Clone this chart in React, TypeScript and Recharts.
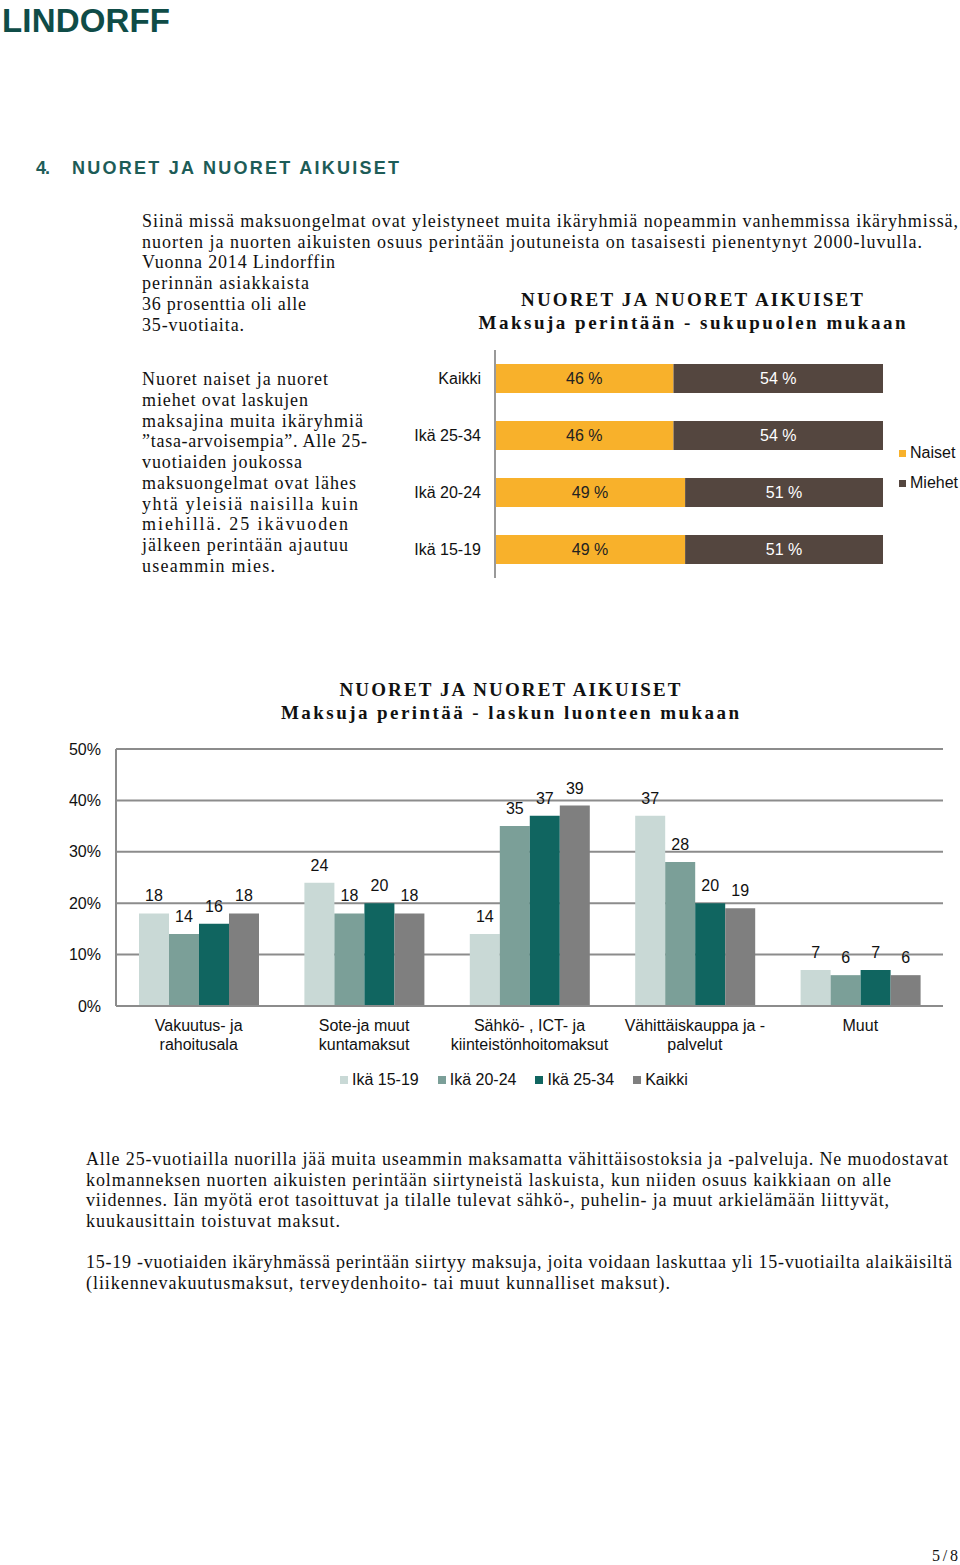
import React from "react";
import { Bar, BarChart, CartesianGrid, LabelList, Legend, XAxis, YAxis } from "recharts";

// Maksuja perintään - sukupuolen mukaan
const genderGroups = ["Kaikki", "Ikä 25-34", "Ikä 20-24", "Ikä 15-19"];
const naiset = [46, 46, 49, 49];
const miehet = [54, 54, 51, 51];
const genderSeries = ["Naiset", "Miehet"];

// Maksuja perintää - laskun luonteen mukaan
const billTypes = [
  "Vakuutus- ja\nrahoitusala",
  "Sote-ja muut\nkuntamaksut",
  "Sähkö- , ICT- ja\nkiinteistönhoitomaksut",
  "Vähittäiskauppa ja -\npalvelut",
  "Muut",
];
const age1519 = [18, 24, 14, 37, 7];
const age2024 = [14, 18, 35, 28, 6];
const age2534 = [16, 20, 37, 20, 7];
const kaikki = [18, 18, 39, 19, 6];
const pctTicks = [0, 10, 20, 30, 40, 50];

const SANS = "'Liberation Sans', Arial, sans-serif";
const SERIF = "'Liberation Serif', 'Times New Roman', serif";
const GRID = "#8c8c8c";
const FS = 16;

const genderData = genderGroups.map((group, i) => ({ group, naiset: naiset[i], miehet: miehet[i] }));
const billData = billTypes.map((type, i) => ({
  type,
  a1519: age1519[i],
  a2024: age2024[i],
  a2534: age2534[i],
  kaikki: kaikki[i],
}));

type LineProps = {
  x: number;
  y: number;
  w: number;
  size?: number;
  bold?: boolean;
  mid?: boolean;
  font?: string;
  fill?: string;
  children: string;
};

function Line({ x, y, w, size = 18, bold, mid, font = SERIF, fill = "#111", children }: LineProps) {
  return (
    <text
      x={x}
      y={y}
      textLength={w}
      lengthAdjust="spacing"
      textAnchor={mid ? "middle" : "start"}
      fontFamily={font}
      fontSize={size}
      fontWeight={bold ? 700 : 400}
      fill={fill}
    >
      {children}
    </text>
  );
}

function BillTick({ x, y, payload }: any) {
  const lines = String(payload.value).split("\n");
  return (
    <text x={x} y={y} textAnchor="middle" fontFamily={SANS} fontSize={FS} fill="#111">
      {lines.map((l, i) => (
        <tspan key={i} x={x} dy={i === 0 ? 17 : 19}>
          {l}
        </tspan>
      ))}
    </text>
  );
}

function SideLegend({ payload }: any) {
  const items = [...(payload || [])].sort(
    (a: any, b: any) => genderSeries.indexOf(a.value) - genderSeries.indexOf(b.value)
  );
  return (
    <div style={{ fontFamily: SANS, fontSize: FS, color: "#111" }}>
      {items.map((p: any) => (
        <div key={p.value} style={{ display: "flex", alignItems: "center", height: 30 }}>
          <span style={{ width: 7, height: 7, background: p.color, marginRight: 4 }} />
          {p.value}
        </div>
      ))}
    </div>
  );
}

function RowLegend({ payload }: any) {
  return (
    <div style={{ display: "flex", fontFamily: SANS, fontSize: FS, color: "#111" }}>
      {(payload || []).map((p: any) => (
        <div key={p.value} style={{ display: "flex", alignItems: "center", marginRight: 19 }}>
          <span style={{ width: 8, height: 8, background: p.color, marginRight: 4 }} />
          {p.value}
        </div>
      ))}
    </div>
  );
}

export default function App() {
  return (
    <div style={{ position: "absolute", left: 0, top: 0, width: 960, height: 1565, background: "#fff", overflow: "hidden" }}>
      <svg width={960} height={1565} style={{ position: "absolute", left: 0, top: 0 }}>
        <Line x={2} y={32} w={168} size={33} bold font={SANS} fill="#0f4c47">LINDORFF</Line>
        <Line x={36} y={174} w={14} size={18} bold font={SANS} fill="#1d5c57">4.</Line>
        <Line x={72} y={174} w={327} size={18} bold font={SANS} fill="#1d5c57">NUORET JA NUORET AIKUISET</Line>

        <Line x={142} y={227} w={816}>Siinä missä maksuongelmat ovat yleistyneet muita ikäryhmiä nopeammin vanhemmissa ikäryhmissä,</Line>
        <Line x={142} y={248} w={780}>nuorten ja nuorten aikuisten osuus perintään joutuneista on tasaisesti pienentynyt 2000-luvulla.</Line>
        <Line x={142} y={268} w={193}>Vuonna 2014 Lindorffin</Line>
        <Line x={142} y={289} w={167}>perinnän asiakkaista</Line>
        <Line x={142} y={310} w={164}>36 prosenttia oli alle</Line>
        <Line x={142} y={331} w={102}>35-vuotiaita.</Line>

        <Line x={692} y={306} w={342} size={19} bold mid>NUORET JA NUORET AIKUISET</Line>
        <Line x={692} y={329} w={427} size={19} bold mid>Maksuja perintään - sukupuolen mukaan</Line>

        <Line x={142} y={385} w={186}>Nuoret naiset ja nuoret</Line>
        <Line x={142} y={406} w={166}>miehet ovat laskujen</Line>
        <Line x={142} y={427} w={221}>maksajina muita ikäryhmiä</Line>
        <Line x={142} y={447} w={225}>”tasa-arvoisempia”. Alle 25-</Line>
        <Line x={142} y={468} w={160}>vuotiaiden joukossa</Line>
        <Line x={142} y={489} w={214}>maksuongelmat ovat lähes</Line>
        <Line x={142} y={510} w={216}>yhtä yleisiä naisilla kuin</Line>
        <Line x={142} y={530} w={206}>miehillä. 25 ikävuoden</Line>
        <Line x={142} y={551} w={206}>jälkeen perintään ajautuu</Line>
        <Line x={142} y={572} w={133}>useammin mies.</Line>

        <Line x={510} y={696} w={341} size={19} bold mid>NUORET JA NUORET AIKUISET</Line>
        <Line x={510} y={719} w={458} size={19} bold mid>Maksuja perintää - laskun luonteen mukaan</Line>

        <Line x={86} y={1165} w={862}>Alle 25-vuotiailla nuorilla jää muita useammin maksamatta vähittäisostoksia ja -palveluja. Ne muodostavat</Line>
        <Line x={86} y={1186} w={805}>kolmanneksen nuorten aikuisten perintään siirtyneistä laskuista, kun niiden osuus kaikkiaan on alle</Line>
        <Line x={86} y={1206} w={803}>viidennes. Iän myötä erot tasoittuvat ja tilalle tulevat sähkö-, puhelin- ja muut arkielämään liittyvät,</Line>
        <Line x={86} y={1227} w={254}>kuukausittain toistuvat maksut.</Line>
        <Line x={86} y={1268} w={866}>15-19 -vuotiaiden ikäryhmässä perintään siirtyy maksuja, joita voidaan laskuttaa yli 15-vuotiailta alaikäisiltä</Line>
        <Line x={86} y={1289} w={584}>(liikennevakuutusmaksut, terveydenhoito- tai muut kunnalliset maksut).</Line>

        <Line x={932} y={1561} w={26} size={16}>5/8</Line>
      </svg>

      <div style={{ position: "absolute", left: 400, top: 340 }}>
        <BarChart
          width={560}
          height={250}
          layout="vertical"
          data={genderData}
          margin={{ top: 10, right: 77, bottom: 12, left: 0 }}
        >
          <XAxis type="number" domain={[0, 100]} hide />
          <YAxis
            type="category"
            dataKey="group"
            width={95}
            tickLine={false}
            tickSize={0}
            tickMargin={14}
            axisLine={{ stroke: "#999", strokeWidth: 2 }}
            tick={{ fill: "#111", fontSize: FS, fontFamily: SANS }}
          />
          <Legend
            layout="horizontal"
            verticalAlign="middle"
            content={<SideLegend />}
            wrapperStyle={{ left: 499, top: 98, right: "auto", bottom: "auto", width: 70 }}
          />
          <Bar dataKey="naiset" name="Naiset" stackId="g" fill="#f8b12b" barSize={29} isAnimationActive={false}>
            <LabelList dataKey="naiset" position="center" formatter={(v: any) => `${v} %`} fill="#222" fontSize={FS} fontFamily={SANS} />
          </Bar>
          <Bar dataKey="miehet" name="Miehet" stackId="g" fill="#54463f" barSize={29} isAnimationActive={false}>
            <LabelList dataKey="miehet" position="center" formatter={(v: any) => `${v} %`} fill="#fff" fontSize={FS} fontFamily={SANS} />
          </Bar>
        </BarChart>
      </div>

      <div style={{ position: "absolute", left: 0, top: 730 }}>
        <BarChart
          width={960}
          height={390}
          data={billData}
          barGap={0}
          margin={{ top: 19, right: 17, bottom: 54, left: 0 }}
        >
          <CartesianGrid vertical={false} stroke={GRID} strokeWidth={2} />
          <XAxis
            dataKey="type"
            interval={0}
            height={60}
            tickLine={false}
            axisLine={{ stroke: GRID, strokeWidth: 2 }}
            tick={<BillTick />}
          />
          <YAxis
            domain={[0, 50]}
            ticks={pctTicks}
            width={116}
            tickLine={false}
            tickSize={0}
            tickMargin={15}
            tickFormatter={(v: number) => `${v}%`}
            axisLine={{ stroke: GRID, strokeWidth: 2 }}
            tick={{ fill: "#111", fontSize: FS, fontFamily: SANS }}
          />
          <Legend
            layout="horizontal"
            verticalAlign="middle"
            content={<RowLegend />}
            wrapperStyle={{ left: 340, top: 341, right: "auto", bottom: "auto", width: 440 }}
          />
          <Bar dataKey="a1519" name="Ikä 15-19" fill="#c9d9d6" barSize={30} isAnimationActive={false}>
            <LabelList dataKey="a1519" position="top" offset={12} fill="#111" fontSize={FS} fontFamily={SANS} />
          </Bar>
          <Bar dataKey="a2024" name="Ikä 20-24" fill="#7b9f98" barSize={30} isAnimationActive={false}>
            <LabelList dataKey="a2024" position="top" offset={12} fill="#111" fontSize={FS} fontFamily={SANS} />
          </Bar>
          <Bar dataKey="a2534" name="Ikä 25-34" fill="#106560" barSize={30} isAnimationActive={false}>
            <LabelList dataKey="a2534" position="top" offset={12} fill="#111" fontSize={FS} fontFamily={SANS} />
          </Bar>
          <Bar dataKey="kaikki" name="Kaikki" fill="#7f7f7f" barSize={30} isAnimationActive={false}>
            <LabelList dataKey="kaikki" position="top" offset={12} fill="#111" fontSize={FS} fontFamily={SANS} />
          </Bar>
        </BarChart>
      </div>
    </div>
  );
}
